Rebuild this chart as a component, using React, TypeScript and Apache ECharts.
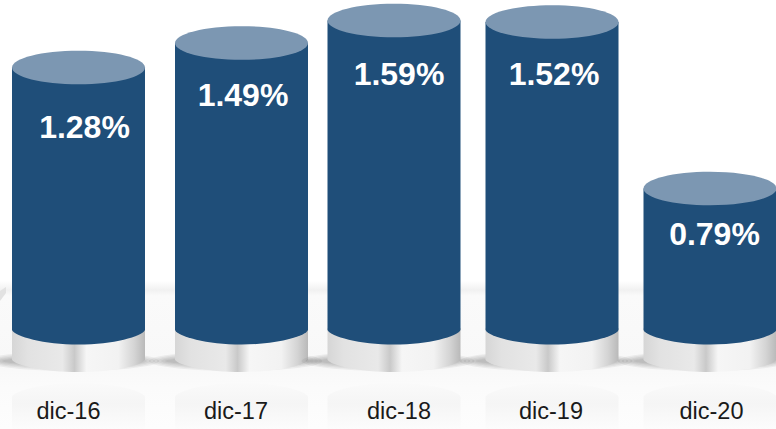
import React, { useEffect, useRef } from "react";
import * as echarts from "echarts";

const categories = ["dic-16", "dic-17", "dic-18", "dic-19", "dic-20"];
// values printed on the columns
const labelValues = [1.28, 1.49, 1.59, 1.52, 0.79];
// drawn column heights, read from the picture on the same % scale (not proportional to the printed values)
const columnHeights = [1.3125, 1.435, 1.5475, 1.54, 0.7075];

// layout nudges, px
const columnNudgeX = [0.5, 5.5, 0, 0, 0];
const labelNudgeX = [6.5, 7, 5, 2, 4.5];
const labelNudgeY = [59.5, 52, 53.5, 52, 45.5];
const tickNudgeX = [-9.5, 0, 5, -1, 1.5];

const HALF_W = 66.5;
const TOP_RY = 16.8;
const BODY_RY = 14.5;
const BASE_H = 30;
const BASE_RY = 12;
// soft shadow built from nested translucent ellipses: [extra half-width, half-height]
const SHADOW_LAYERS = [
  [20, 10],
  [16, 8.5],
  [12, 7],
  [8, 5.5],
  [4, 4],
];

const silver = () =>
  new echarts.graphic.LinearGradient(0, 0, 1, 0, [
    { offset: 0, color: "#d6d6d6" },
    { offset: 0.12, color: "#e2e2e2" },
    { offset: 0.38, color: "#e9e9e9" },
    { offset: 0.47, color: "#c9c9c9" },
    { offset: 0.56, color: "#f6f6f6" },
    { offset: 0.8, color: "#f2f2f2" },
    { offset: 0.92, color: "#d4d4d4" },
    { offset: 1, color: "#b9b9b9" },
  ]);

// A cylinder-bottom outline in a 100x100 box, stretched to its place by "cover".
const cup = (r: number) =>
  `M0 0 L100 0 L100 ${100 - r} C98 ${100 - r * 0.55} 76 100 50 100 C24 100 2 ${100 - r * 0.55} 0 ${100 - r} Z`;
const dome = (r: number) =>
  `M0 ${r} C2 ${r * 0.55} 24 0 50 0 C76 0 98 ${r * 0.55} 100 ${r} L100 100 L0 100 Z`;

function renderColumn(params: any, api: any) {
  const i = api.value(0);
  const top = api.coord([i, api.value(1)]);
  const base = api.coord([i, 0]);
  const cx = top[0] + columnNudgeX[i];
  const left = cx - HALF_W;
  const w = HALF_W * 2;
  const baseBottom = base[1] + BASE_H + BASE_RY;
  const bodyH = base[1] + BODY_RY - top[1];
  const reflTop = base[1] + 53;
  const reflH = 429 - reflTop;
  return {
    type: "group",
    children: [
      {
        type: "path",
        shape: { pathData: dome(30), x: left, y: reflTop, width: w, height: reflH, layout: "cover" },
        style: {
          fill: new echarts.graphic.LinearGradient(0, 0, 0, 1, [
            { offset: 0, color: "#fafafa" },
            { offset: 0.45, color: "#f5f5f5" },
            { offset: 1, color: "#fcfcfc" },
          ]),
        },
      },
      ...SHADOW_LAYERS.map(([dx, ry]) => ({
        type: "ellipse",
        shape: { cx: cx - 6, cy: base[1] + 31, rx: HALF_W + dx, ry },
        style: { fill: "rgba(0,0,0,0.05)" },
      })),
      {
        type: "path",
        shape: {
          pathData: cup(28),
          x: left,
          y: base[1] - 2,
          width: w,
          height: baseBottom - base[1] + 2,
          layout: "cover",
        },
        style: { fill: silver() },
      },
      {
        type: "path",
        shape: {
          pathData: cup((BODY_RY * 2 * 100) / bodyH / 2),
          x: left,
          y: top[1],
          width: w,
          height: bodyH,
          layout: "cover",
        },
        style: { fill: "#1f4e79" },
      },
      {
        type: "ellipse",
        shape: { cx, cy: top[1], rx: HALF_W, ry: TOP_RY },
        style: { fill: "#7c97b2" },
      },
      {
        type: "text",
        style: {
          text: labelValues[i].toFixed(2) + "%",
          x: top[0] + labelNudgeX[i],
          y: top[1] + labelNudgeY[i],
          align: "center",
          verticalAlign: "middle",
          fill: "#ffffff",
          font: 'bold 32px "Liberation Sans", Arial, sans-serif',
        },
      },
    ],
  };
}

export default function App() {
  const ref = useRef<HTMLDivElement>(null);
  useEffect(() => {
    document.body.style.margin = "0";
    const chart = echarts.init(ref.current!, null, { renderer: "svg" });
    const rich: any = {};
    tickNudgeX.forEach((n, i) => {
      rich["t" + i] = {
        fontFamily: '"Liberation Sans", Arial, sans-serif',
        fontSize: 23.5,
        color: "#1a1a1a",
        padding: n < 0 ? [0, -2 * n, 0, 0] : [0, 0, 0, 2 * n],
      };
    });
    chart.setOption({
      animation: false,
      backgroundColor: "#ffffff",
      graphic: [
        {
          type: "rect",
          z: -1,
          shape: { x: 0, y: 281, width: 776, height: 148 },
          style: {
            fill: new echarts.graphic.LinearGradient(0, 0, 0, 1, [
              { offset: 0, color: "#ffffff" },
              { offset: 0.06, color: "#f1f1f1" },
              { offset: 0.1, color: "#fafafa" },
              { offset: 0.55, color: "#f8f8f8" },
              { offset: 0.72, color: "#fbfbfb" },
              { offset: 1, color: "#fdfdfd" },
            ]),
          },
        },
        {
          type: "polygon",
          z: -1,
          shape: { points: [[0, 291], [6, 287], [6, 293], [0, 301]] },
          style: { fill: "#e2e2e2" },
        },
      ],
      grid: { left: -1, width: 790, top: 10, bottom: 99, containLabel: false, outerBoundsMode: "none" },
      xAxis: {
        type: "category",
        z: 10,
        data: categories,
        axisLine: { show: false },
        axisTick: { show: false },
        splitLine: { show: false },
        axisLabel: {
          show: true,
          interval: 0,
          hideOverlap: false,
          margin: 69,
          formatter: (v: string) => `{t${categories.indexOf(v)}|${v}}`,
          rich,
        },
      },
      yAxis: { type: "value", min: 0, max: 1.6, show: false },
      series: [
        {
          type: "custom",
          clip: false,
          z: 2,
          renderItem: renderColumn,
          encode: { x: 0, y: 1 },
          data: columnHeights.map((h, i) => [i, h]),
        },
      ],
    });
    return () => chart.dispose();
  }, []);
  return <div ref={ref} style={{ width: 776, height: 429 }} />;
}
